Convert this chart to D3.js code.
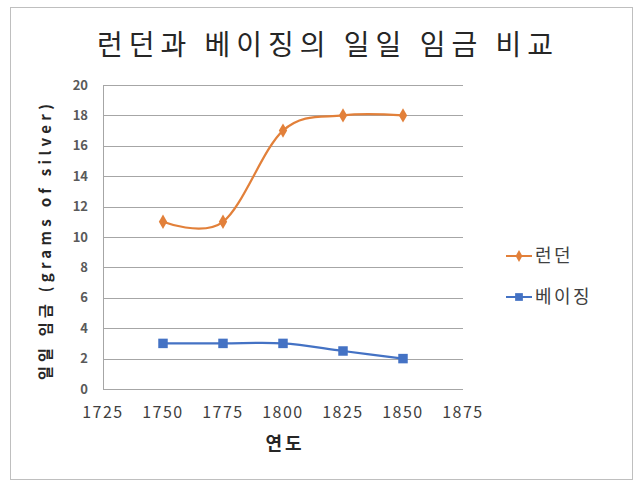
<!DOCTYPE html>
<html>
<head>
<meta charset="utf-8">
<script src="https://cdn.jsdelivr.net/npm/d3@7"></script>
<style>
  body { margin: 0; background: #fff; }
  svg { display: block; font-family: "Noto Sans CJK KR", "Noto Sans", sans-serif; }
</style>
</head>
<body>
<svg id="chart" width="640" height="484"></svg>
<script>
(function () {
  'use strict';

  const years = [1750, 1775, 1800, 1825, 1850];
  const london = [11, 11, 17, 18, 18];
  const beijing = [3, 3, 3, 2.5, 2];
  const xTicks = [1725, 1750, 1775, 1800, 1825, 1850, 1875];
  const yTicks = [0, 2, 4, 6, 8, 10, 12, 14, 16, 18, 20];

  const series = [
    { name: '런던', values: london, color: '#E2803A', marker: 'diamond' },
    { name: '베이징', values: beijing, color: '#4472C4', marker: 'square' }
  ];

  const svg = d3.select('#chart');

  // outer frame
  svg.append('rect')
    .attr('x', 10.5).attr('y', 7.5)
    .attr('width', 622).attr('height', 472)
    .attr('fill', '#fff').attr('stroke', '#bfbfbf');

  const x = d3.scaleLinear().domain([1725, 1875]).range([103, 463]);
  const y = d3.scaleLinear().domain([0, 20]).range([389, 85]);

  // grid
  svg.append('g').selectAll('line')
    .data(yTicks)
    .join('line')
    .attr('x1', x(1725)).attr('x2', x(1875))
    .attr('y1', d => Math.round(y(d)) + 0.5)
    .attr('y2', d => Math.round(y(d)) + 0.5)
    .attr('stroke', '#a6a6a6').attr('stroke-width', 1);

  svg.append('line')
    .attr('x1', x(1725) + 0.5).attr('x2', x(1725) + 0.5)
    .attr('y1', y(20)).attr('y2', y(0))
    .attr('stroke', '#a6a6a6');

  // tick labels
  svg.append('g').selectAll('text')
    .data(yTicks)
    .join('text')
    .attr('x', 88).attr('y', d => y(d))
    .attr('dy', '0.35em')
    .attr('text-anchor', 'end')
    .attr('font-size', 13).attr('font-weight', 'bold')
    .attr('fill', '#595959')
    .text(d => d);

  svg.append('g').selectAll('text')
    .data(xTicks)
    .join('text')
    .attr('x', d => x(d)).attr('y', 418)
    .attr('text-anchor', 'middle')
    .attr('font-size', 16)
    .attr('letter-spacing', 1.5)
    .attr('fill', '#404040')
    .text(d => d);

  // axis titles
  svg.append('text')
    .attr('x', 285).attr('y', 450)
    .attr('text-anchor', 'middle')
    .attr('font-size', 18).attr('font-weight', 'bold')
    .attr('letter-spacing', 3)
    .attr('fill', '#262626')
    .text('연도');

  svg.append('text')
    .attr('transform', 'translate(51,240) rotate(-90)')
    .attr('text-anchor', 'middle')
    .attr('font-size', 15).attr('font-weight', 'bold')
    .attr('letter-spacing', 4.3)
    .attr('fill', '#262626')
    .text('일일 임금 (grams of silver)');

  // title
  svg.append('text')
    .attr('x', 328).attr('y', 55)
    .attr('text-anchor', 'middle')
    .attr('font-size', 28)
    .attr('letter-spacing', 6)
    .attr('fill', '#262626')
    .text('런던과 베이징의 일일 임금 비교');

  const line = d3.line()
    .x((d, i) => x(years[i]))
    .y(d => y(d))
    .curve(d3.curveCatmullRom.alpha(0));

  const sym = {
    diamond: d3.symbol().type(d3.symbolDiamond).size(60),
    square: d3.symbol().type(d3.symbolSquare).size(90)
  };
  const legendSym = {
    diamond: d3.symbol().type(d3.symbolDiamond).size(40),
    square: d3.symbol().type(d3.symbolSquare).size(60)
  };

  series.forEach(s => {
    svg.append('path')
      .attr('d', line(s.values))
      .attr('fill', 'none')
      .attr('stroke', s.color)
      .attr('stroke-width', 2.25);

    svg.append('g').selectAll('path')
      .data(s.values)
      .join('path')
      .attr('transform', (d, i) => `translate(${x(years[i])},${y(d)})`)
      .attr('d', sym[s.marker]())
      .attr('fill', s.color);
  });

  // legend
  const legend = svg.append('g');
  series.forEach((s, i) => {
    const ly = 256 + i * 41;
    legend.append('line')
      .attr('x1', 506).attr('x2', 532)
      .attr('y1', ly).attr('y2', ly)
      .attr('stroke', s.color).attr('stroke-width', 2);
    legend.append('path')
      .attr('transform', `translate(519,${ly})`)
      .attr('d', legendSym[s.marker]())
      .attr('fill', s.color);
    legend.append('text')
      .attr('x', 535).attr('y', ly)
      .attr('dy', '0.35em')
      .attr('font-size', 18)
      .attr('letter-spacing', 2.5)
      .attr('fill', '#404040')
      .text(s.name);
  });
})();
</script>
</body>
</html>
